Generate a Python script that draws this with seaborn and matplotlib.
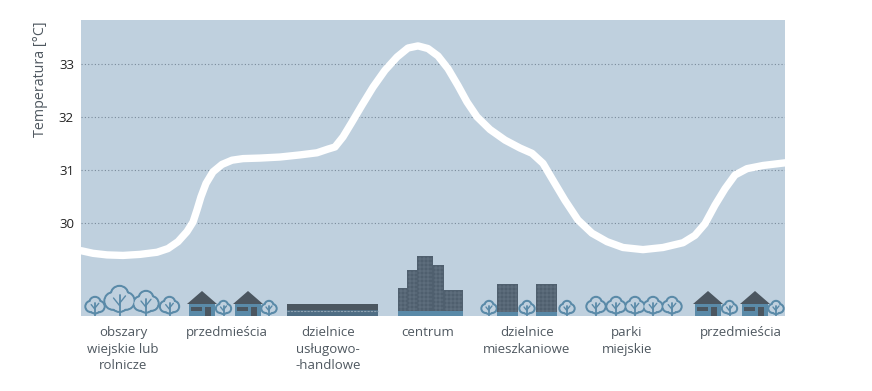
import matplotlib
matplotlib.use('Agg')
import pandas as pd
import seaborn as sns
import matplotlib.pyplot as plt
from matplotlib.patches import Circle, Polygon, Rectangle

# dane
positions = [81, 93, 107, 123, 140, 157, 168, 178, 187, 193, 197, 201, 206, 213, 222, 232, 243, 260, 280,
             300, 317, 328, 335, 343, 352, 362, 373, 385, 397, 408, 418, 428, 438, 448, 458, 467, 477, 490,
             505, 520, 532, 543, 553, 565, 578, 592, 607, 623, 643, 663, 683, 695, 705, 715, 725, 735, 747,
             763, 785]
temperature = [29.48, 29.43, 29.40, 29.39, 29.41, 29.45, 29.52, 29.65, 29.84, 30.02, 30.25, 30.50, 30.75,
               30.97, 31.11, 31.19, 31.22, 31.23, 31.25, 31.29, 31.33, 31.40, 31.44, 31.63, 31.91, 32.23,
               32.57, 32.89, 33.14, 33.31, 33.35, 33.30, 33.16, 32.92, 32.60, 32.29, 32.01, 31.77, 31.57,
               31.42, 31.32, 31.13, 30.81, 30.43, 30.06, 29.81, 29.65, 29.54, 29.50, 29.54, 29.63, 29.77,
               29.99, 30.34, 30.65, 30.91, 31.03, 31.09, 31.14]
y_ticks = [30, 31, 32, 33]
zones = ['obszary\nwiejskie lub\nrolnicze', 'przedmieścia', 'dzielnice\nusługowo-\n-handlowe', 'centrum',
         'dzielnice\nmieszkaniowe', 'parki\nmiejskie', 'przedmieścia']
zone_pos = [123, 227, 328, 428, 527, 627, 741]

BG = '#bfd0de'
BLUE = '#5a8aa8'
DARK = '#4b5660'
TEXT = '#4f5860'

# ikony: x środka, wysokość
trees = [(95, 19), (119.5, 30), (146, 25), (169.5, 19), (223.5, 15), (269, 15), (489, 15), (527, 15),
         (567, 15), (596, 19), (616, 19), (635, 19), (653, 19), (672, 19), (729.5, 15), (776, 15)]
houses = [202, 248, 708, 755]
towers = [(398, 408, 288), (407, 418, 270), (417, 433, 256), (433, 444, 265), (444, 463, 290)]
blocks = [497, 536]

sns.set_style('white')
plt.rcParams['font.family'] = ['Open Sans', 'DejaVu Sans']

fig = plt.figure(figsize=(8.72, 3.91), dpi=100)
ax = fig.add_axes([81 / 872, 1 - 316 / 391, 704 / 872, 296 / 391])
ax.set_facecolor(BG)
df = pd.DataFrame({'pos': positions, 'temp': temperature})

ax.set_yticks(y_ticks)
ax.yaxis.grid(True, linestyle=(0, (1, 2)), color='#7a8b9b', linewidth=0.8)
ax.xaxis.grid(False)
ax.set_axisbelow(True)
sns.lineplot(data=df, x='pos', y='temp', ax=ax, color='white', linewidth=5.3, sort=False, estimator=None,
             solid_joinstyle='round', zorder=3)
ax.set_xlim(81, 785)
ax.set_ylim(30 - 93 / 53, 33 + 44.5 / 53)
sns.despine(ax=ax, left=True, bottom=True)

ax.set_xticks(zone_pos)
ax.set_xticklabels(zones, fontsize=9.5, color=TEXT, linespacing=1.32)
ax.tick_params(axis='x', length=0, pad=7.5)
ax.tick_params(axis='y', length=0, pad=5, labelsize=9.5, labelcolor='#222222')
ax.set_xlabel('')
ax.set_ylabel('')
fig.text(41 / 872, 1 - 79.5 / 391, 'Temperatura [°C]', rotation=90, ha='center', va='center',
         fontsize=10.3, color=TEXT)

# warstwa na ikony, w pikselach
ic = fig.add_axes(ax.get_position(), facecolor='none')
ic.set_xlim(81, 785)
ic.set_ylim(316, 20)
ic.axis('off')


def draw_tree(x, h):
    top = 316 - h
    r = 0.29 * h
    lobes = [(x, top + r), (x - 0.21 * h, top + 0.5 * h), (x + 0.21 * h, top + 0.5 * h), (x, top + 0.57 * h)]
    for lx, ly in lobes:
        ic.add_patch(Circle((lx, ly), r, fc=BG, ec=BLUE, lw=1.7, zorder=4))
    for lx, ly in lobes:
        ic.add_patch(Circle((lx, ly), r - 0.9, fc=BG, ec='none', zorder=5))
    ic.plot([x, x], [top + 0.3 * h, 316], color=BLUE, lw=1.3, zorder=6)
    ic.plot([x, x - 0.2 * h], [top + 0.65 * h, top + 0.4 * h], color=BLUE, lw=1.0, zorder=6)
    ic.plot([x, x + 0.2 * h], [top + 0.58 * h, top + 0.33 * h], color=BLUE, lw=1.0, zorder=6)


def draw_house(x):
    ic.add_patch(Polygon([(x - 15, 304), (x, 291), (x + 15, 304)], fc=DARK, ec='none', zorder=4))
    ic.add_patch(Rectangle((x - 13, 304), 26, 12, fc=BLUE, ec='none', zorder=4))
    ic.add_patch(Rectangle((x - 11, 307), 11, 4, fc=DARK, ec='none', zorder=5))
    ic.add_patch(Rectangle((x + 3, 307), 6, 9, fc=DARK, ec='none', zorder=5))


def draw_building(x0, x1, top, band=5):
    ic.add_patch(Rectangle((x0, top), x1 - x0, 316 - top, fc='#4f5f6e', ec='none', zorder=4))
    ic.add_patch(Rectangle((x0, 316 - band), x1 - x0, band, fc=BLUE, ec='none', zorder=5))
    # okna
    for wx in range(int(x0) + 3, int(x1) - 1, 4):
        ic.plot([wx, wx], [top + 1, 316 - band], color='#71838f', lw=0.35, zorder=5)
    for wy in range(int(top) + 3, 316 - band, 4):
        ic.plot([x0 + 1, x1 - 1], [wy, wy], color='#71838f', lw=0.35, zorder=5)


for x, h in trees:
    draw_tree(x, h)
for x in houses:
    draw_house(x)
for x0, x1, top in towers:
    draw_building(x0, x1, top)
for x0 in blocks:
    draw_building(x0, x0 + 21, 284, band=4)
# hala
ic.add_patch(Rectangle((287, 304), 91, 12, fc='#4f6d84', ec='none', zorder=4))
ic.add_patch(Rectangle((287, 304), 91, 6, fc=DARK, ec='none', zorder=5))
ic.plot([287, 378], [310.5, 310.5], color='#8fa3b2', lw=0.8, linestyle=(0, (2, 1)), zorder=6)

plt.savefig('out.png', dpi=100)
